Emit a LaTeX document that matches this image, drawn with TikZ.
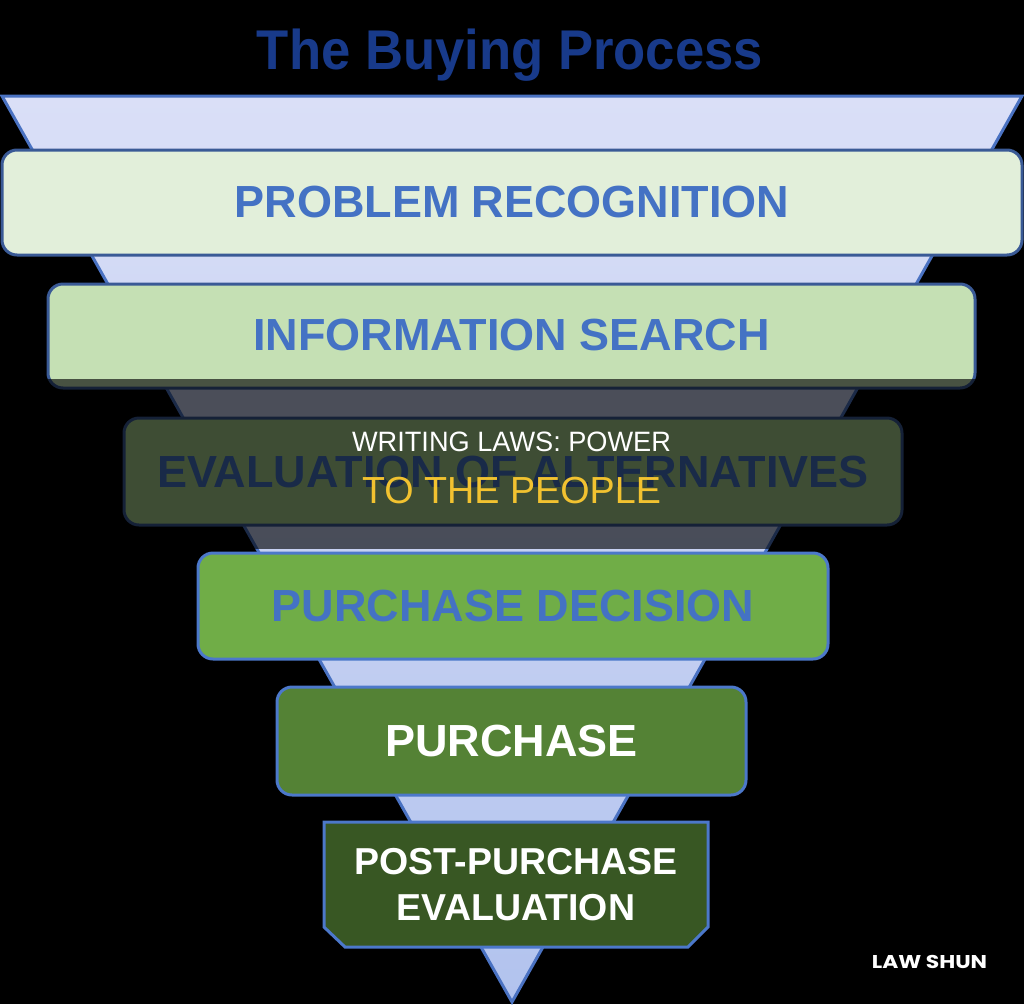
\documentclass[tikz,border=0pt]{standalone}
\usepackage{fontspec}
\usepackage{graphicx}
\setmainfont{Liberation Sans}
\newfontfamily\wmfont{Poppins}
\definecolor{tribord}{HTML}{4A72C2}
\definecolor{tritop}{HTML}{DADFF7}
\definecolor{tribot}{HTML}{B2C3EE}
\definecolor{bdark}{HTML}{3A5A96}
\definecolor{blight}{HTML}{4C78CA}
\definecolor{gone}{HTML}{E2EFDA}
\definecolor{gtwo}{HTML}{C5E0B4}
\definecolor{gthree}{HTML}{A9D18E}
\definecolor{gfour}{HTML}{70AD47}
\definecolor{gfive}{HTML}{548235}
\definecolor{gsix}{HTML}{385723}
\definecolor{tblue}{HTML}{4472C4}
\definecolor{titleblue}{HTML}{183A8A}
\definecolor{ovyellow}{HTML}{F2C230}
\begin{document}
\begin{tikzpicture}[x=1pt,y=-1pt,
  stagebox/.style={rectangle, rounded corners=15pt, line width=3pt, inner sep=0pt,
    font=\bfseries\fontsize{45}{54}\selectfont},
  darkedge/.style={draw=bdark},
  lightedge/.style={draw=blight}]
\useasboundingbox[fill=black] (0,0) rectangle (1024,1004);

% funnel
\coordinate (ftl) at (2,96);
\coordinate (ftr) at (1022,96);
\coordinate (fap) at (512,1002);
\draw[line width=3pt, draw=tribord, top color=tritop, bottom color=tribot]
  (ftl) -- (ftr) -- (fap) -- cycle;

% title
\node[anchor=base, text=titleblue, font=\bfseries\fontsize{56}{60}\selectfont] (title) at (510,69)
  {\scalebox{0.94}[1]{The Buying Process}};

% stages
\node[stagebox, darkedge, fill=gone, text=tblue, minimum width=1020pt, minimum height=105pt]
  (s1) at (512,202.5) {PROBLEM RECOGNITION};
\node[stagebox, darkedge, fill=gtwo, text=tblue, minimum width=927pt, minimum height=104pt, text depth=2pt]
  (s2) at (511.5,336) {INFORMATION SEARCH};
\node[stagebox, darkedge, fill=gthree, text=tblue, minimum width=778pt, minimum height=107pt]
  (s3) at (513,471.5) {EVALUATION OF ALTERNATIVES};
\node[stagebox, lightedge, fill=gfour, text=tblue, minimum width=630pt, minimum height=106pt]
  (s4) at (513,606) {PURCHASE DECISION};
\node[stagebox, lightedge, fill=gfive, text=white, minimum width=469pt, minimum height=108pt]
  (s5) at (511.5,741) {PURCHASE};

% last stage: rectangle with snipped bottom corners
\coordinate (c6nw) at (324,822);
\coordinate (c6ne) at (708,822);
\coordinate (c6er) at (708,927);
\coordinate (c6br) at (688,947);
\coordinate (c6bl) at (345,947);
\coordinate (c6wl) at (324,927);
\draw[line width=3pt, lightedge, fill=gsix]
  (c6nw) -- (c6ne) -- (c6er) -- (c6br) -- (c6bl) -- (c6wl) -- cycle;
\node[text=white, align=center, inner sep=0pt,
  font=\bfseries\fontsize{37.5}{46}\selectfont]
  (s6) at (516,884.5) {POST-PURCHASE\\EVALUATION};

% overlay band
\fill[black, opacity=0.63] (0,379) rectangle (1024,549);
\node[text=white, font=\fontsize{28}{30}\selectfont, inner sep=0pt] (ov1) at (511.5,442)
  {\scalebox{0.97}[1]{WRITING LAWS: POWER}};
\node[text=ovyellow, font=\fontsize{37.7}{40}\selectfont, inner sep=0pt] (ov2) at (511.5,490.5)
  {TO THE PEOPLE};

% watermark
\node[anchor=base, text=white, font=\wmfont\bfseries\fontsize{18.5}{20}\selectfont, inner sep=0pt]
  (wm) at (929.5,968) {\scalebox{1.18}[1]{LAW SHUN}};
\end{tikzpicture}
\end{document}
